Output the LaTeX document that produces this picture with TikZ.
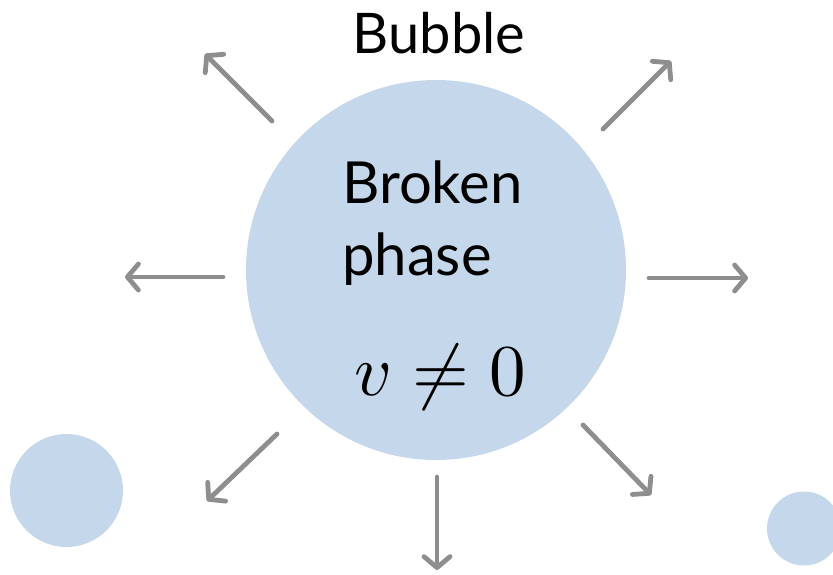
\documentclass[tikz,border=0pt]{standalone}
\usepackage{fontspec}
\setmainfont{Lato}
\usetikzlibrary{arrows.meta}
\definecolor{bubblefill}{HTML}{C5D7EA}
\definecolor{arrowgray}{HTML}{8E8E8E}
\tikzset{
  ball/.style={circle, fill=bubblefill, draw=none, inner sep=0pt},
  outarrow/.style={draw=arrowgray, line width=4.8pt, line cap=round,
    -{Straight Barb[length=11pt, width=26pt, line cap=round, line join=round]}},
  lbl/.style={inner sep=0pt, font=\fontsize{58}{72}\selectfont},
}
\begin{document}
\begin{tikzpicture}[x=1pt, y=-1pt]
\useasboundingbox (0,0) rectangle (833,574);
\begin{scope}
\clip (0,0) rectangle (833,574);
\node[ball, minimum size=380pt] (big) at (436,270) {};
\node[ball, minimum size=113pt] (sl) at (66.5,490.5) {};
\node[ball, minimum size=74pt] (sr) at (804,528.5) {};
\end{scope}
\node[lbl, anchor=base, font=\fontsize{56}{72}\selectfont] (bub) at (439,53) {Bubble};
\node[lbl, anchor=base west] (br) at (342,203) {Broken};
\node[lbl, anchor=base west] (ph) at (342,275) {phase};
\node[inner sep=0pt, anchor=base] (v) at (440,395) {\scalebox{7.3}{$v\neq0$}};
% arrows
\coordinate (a1s) at (272,121); \coordinate (a1e) at (205,54);
\coordinate (a2s) at (603,129); \coordinate (a2e) at (671,61);
\coordinate (a3s) at (223,277); \coordinate (a3e) at (125,277);
\coordinate (a4s) at (649,278); \coordinate (a4e) at (748,278);
\coordinate (a5s) at (277,434); \coordinate (a5e) at (207,501);
\coordinate (a6s) at (583,425); \coordinate (a6e) at (651,495);
\coordinate (a7s) at (437,477); \coordinate (a7e) at (437,570);
\foreach \i in {1,...,7} \draw[outarrow] (a\i s) -- (a\i e);
\end{tikzpicture}
\end{document}
